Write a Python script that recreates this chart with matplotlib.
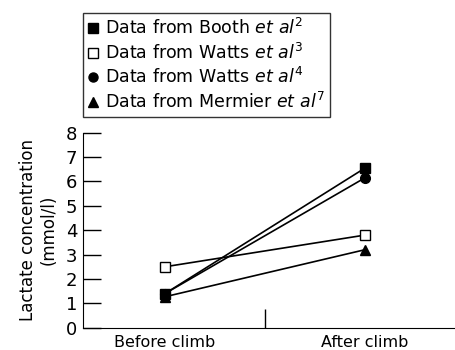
import matplotlib.pyplot as plt
from matplotlib.lines import Line2D

plt.rcParams['font.family'] = 'DejaVu Sans'
plt.rcParams['mathtext.fontset'] = 'dejavusans'

# dados
categorias = ['Before climb', 'After climb']
booth = [1.4, 6.55]
watts3 = [2.5, 3.8]
watts4 = [1.4, 6.15]
mermier = [1.27, 3.2]

rotulos = [r'Data from Booth $\mathit{et\ al}^{2}$',
           r'Data from Watts $\mathit{et\ al}^{3}$',
           r'Data from Watts $\mathit{et\ al}^{4}$',
           r'Data from Mermier $\mathit{et\ al}^{7}$']

fig = plt.figure(figsize=(4.55, 3.5), dpi=100)
ax = fig.add_axes([83 / 455, 22.3 / 350, 1 - 83 / 455, 195 / 350])

x = [0, 1]
series = [booth, watts3, watts4, mermier]
marcadores = ['s', 's', 'o', '^']
preenchimento = ['black', 'white', 'black', 'black']

handles = []
for valores, m, fc, rot in zip(series, marcadores, preenchimento, rotulos):
    ax.plot(x, valores, color='black', lw=1.2, marker=m, markersize=7,
            mfc=fc, mec='black', mew=1.0)
    # legenda so com o marcador, sem linha
    handles.append(Line2D([], [], ls='none', marker=m, markersize=6.5,
                          mfc=fc, mec='black', mew=1.0, label=rot))

ax.set_xlim(-0.41, 1.45)
ax.set_ylim(0, 8)
ax.set_yticks(range(0, 9))
ax.tick_params(axis='y', direction='in', length=13, width=1, labelsize=13, pad=4)
ax.set_xticks([0.5])
ax.set_xticklabels([''])
ax.tick_params(axis='x', direction='in', length=14, width=1)
for xi, cat in zip(x, categorias):
    ax.annotate(cat, (xi, 0), xycoords='data', xytext=(0, -5),
                textcoords='offset points', ha='center', va='top', fontsize=11.5)

ax.spines['top'].set_visible(False)
ax.spines['right'].set_visible(False)
ax.set_ylabel('Lactate concentration\n(mmol/l)', fontsize=12, labelpad=6)

leg = fig.legend(handles=handles, loc='upper left',
                 bbox_to_anchor=(83 / 455, 1 - 13 / 350),
                 fontsize=12.5, frameon=True, fancybox=False, edgecolor='black',
                 handlelength=0.6, handletextpad=0.35, borderpad=0.3,
                 labelspacing=0.25, borderaxespad=0)
leg.get_frame().set_linewidth(1.0)

fig.savefig('out.png', dpi=100)
